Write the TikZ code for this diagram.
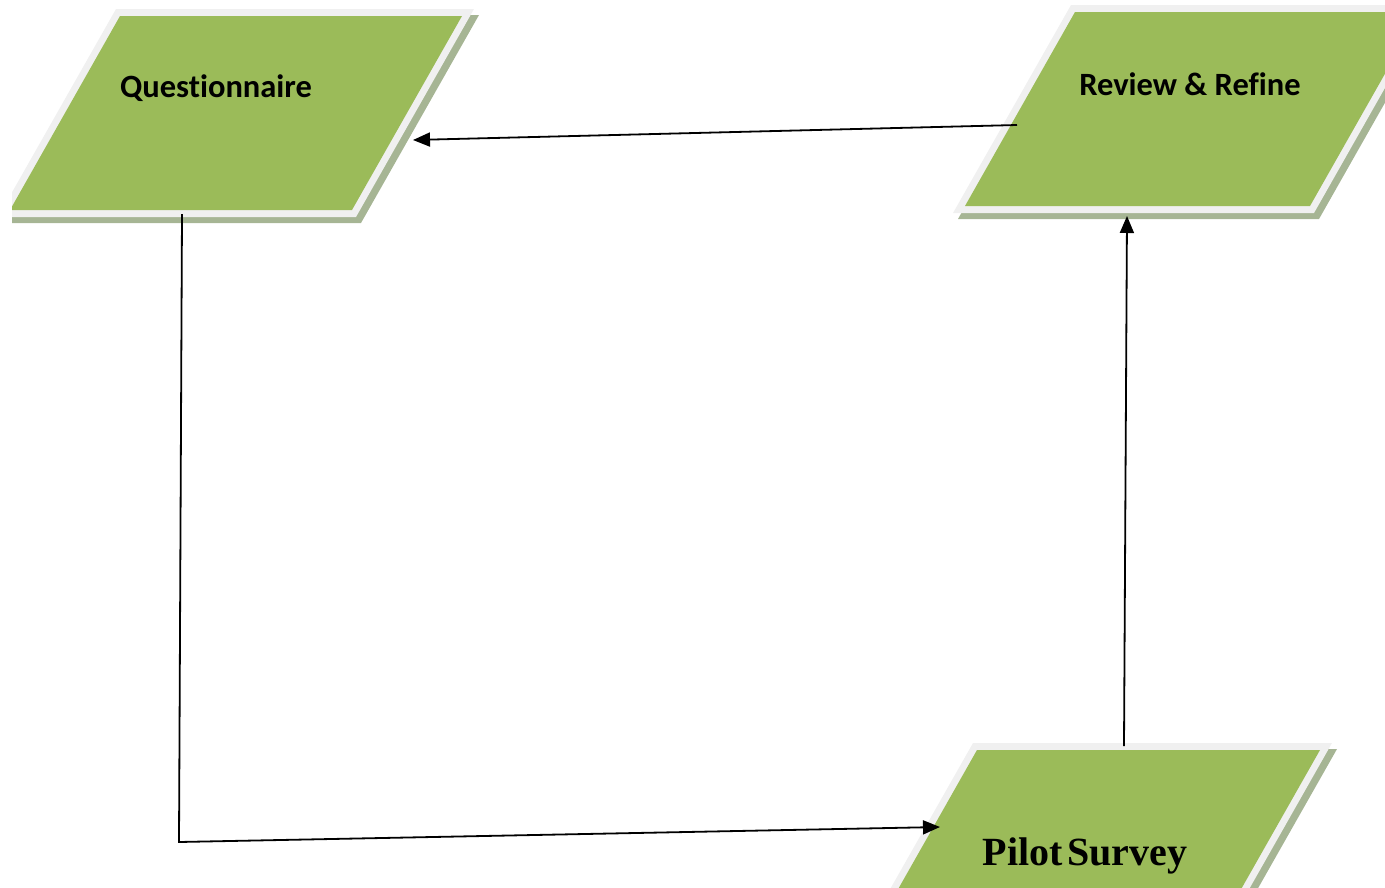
\documentclass[tikz,border=0pt]{standalone}
\usepackage{fontspec}
\setmainfont[Ligatures=CommonOff]{Carlito}
\newfontfamily\serifbold{Liberation Serif}
\usetikzlibrary{arrows.meta}
\definecolor{plategreen}{HTML}{9BBB59}
\definecolor{platerim}{HTML}{F0F0F0}
\definecolor{plateshade}{HTML}{A6B594}
\tikzset{
  link/.style={draw=black, line width=1.8pt, -{Triangle[length=17pt,width=14pt]}},
  boxlabel/.style={font=\bfseries\fontsize{32.5}{38}\selectfont, inner sep=0pt},
}
% slanted data plate: #1 = width of the green face; origin at its bottom-left corner
\newcommand\slantplate[1]{%
  \fill[plateshade, shift={(5,6)}] (-12,7) -- ({#1+4},7) -- ({#1+122},-201) -- (106,-201) -- cycle;
  \fill[platerim] (-12,7) -- ({#1+4},7) -- ({#1+122},-201) -- (106,-201) -- cycle;
  \fill[plategreen] (0,0) -- (#1,0) -- ({#1+110},-194) -- (110,-194) -- cycle;
}
\begin{document}
\begin{tikzpicture}[x=1pt, y=-1pt]
\useasboundingbox (0,0) rectangle (1385,887);
\begin{scope}
  \clip (12,0) rectangle (1385,887);
  % Questionnaire plate
  \begin{scope}[shift={(10,210)}]\slantplate{342}\end{scope}
  % Review & Refine plate
  \begin{scope}[shift={(965,206)}]\slantplate{345}\end{scope}
  % Pilot Survey plate
  \begin{scope}[shift={(867,944)}]\slantplate{343}\end{scope}
\end{scope}

\node[boxlabel] (quest) at (216,88) {Questionnaire};
\node[boxlabel] (review) at (1190,84) {Review \& Refine};
\node[font=\serifbold\bfseries\fontsize{40}{46}\selectfont, inner sep=0pt] (pilot) at (1085,856) {Pilot\hspace{0.12em}Survey};

% connector ends on the plate edges
\coordinate (quest-right) at (413,140);
\coordinate (quest-bottom) at (182,214);
\coordinate (review-left) at (1017,125);
\coordinate (review-bottom) at (1127,216);
\coordinate (pilot-left) at (940,827);
\coordinate (pilot-top) at (1124,746);
\coordinate (corner) at (179,842);

\draw[link] (review-left) -- (quest-right);
\draw[link] (quest-bottom) -- (corner) -- (pilot-left);
\draw[link] (pilot-top) -- (review-bottom);
\end{tikzpicture}
\end{document}
